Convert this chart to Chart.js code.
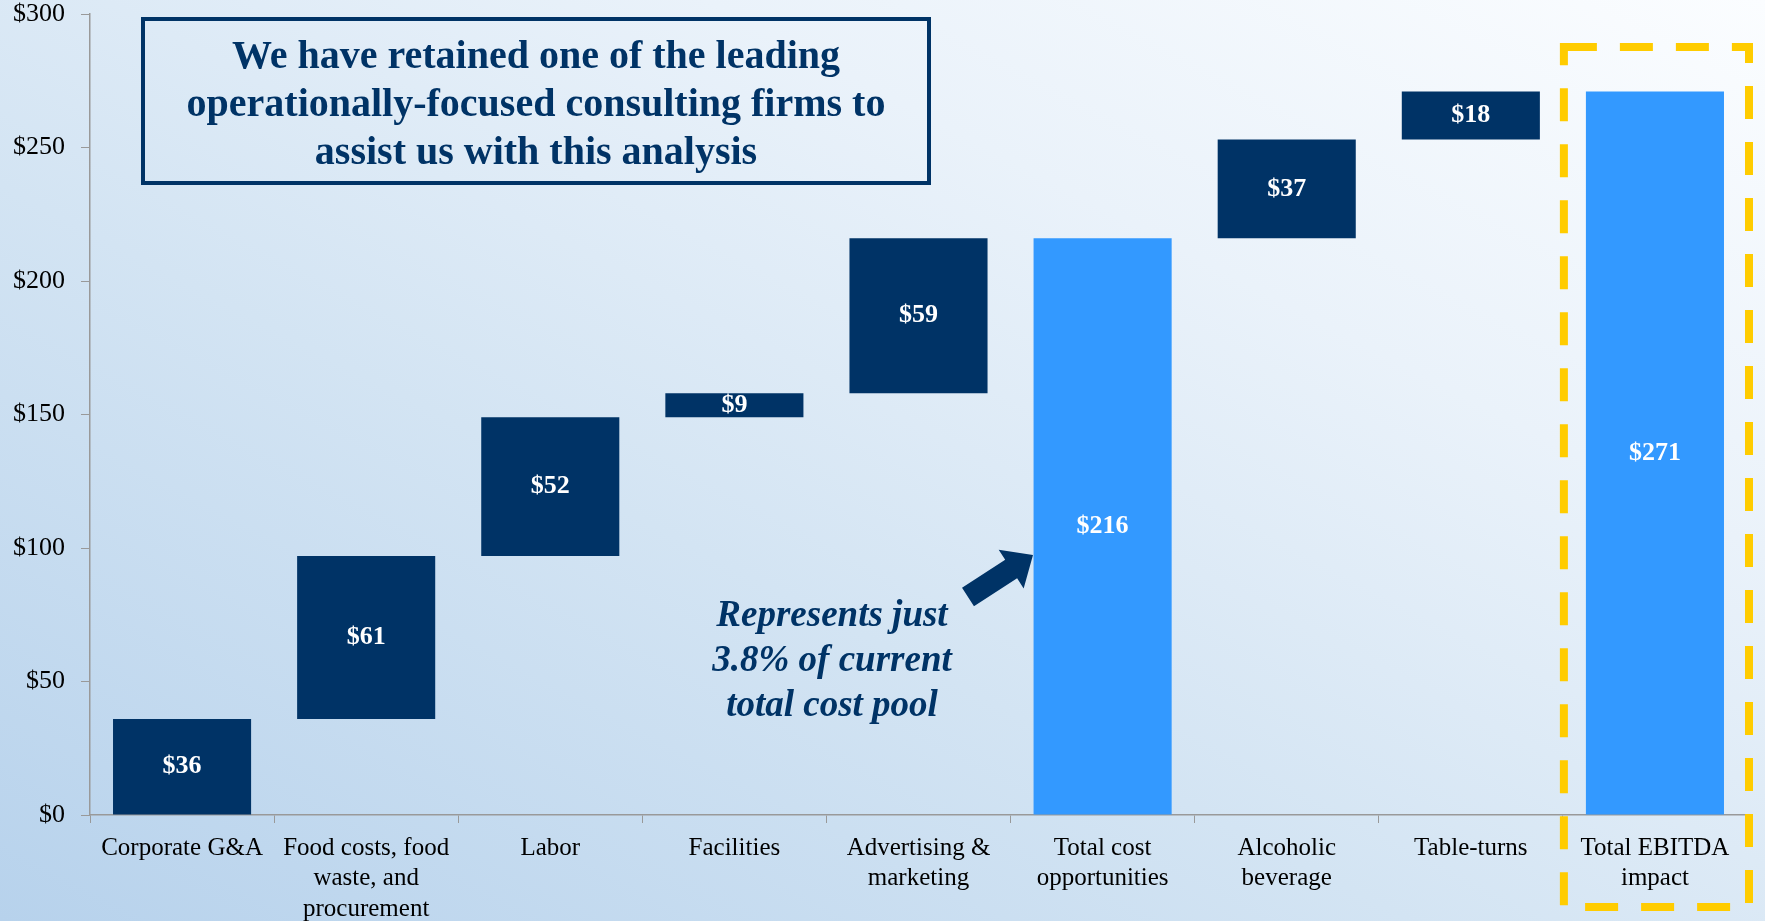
<!DOCTYPE html>
<html>
<head>
<meta charset="utf-8">
<script src="https://cdn.jsdelivr.net/npm/chart.js@4/dist/chart.umd.min.js"></script>
<style>
  html,body{margin:0;padding:0;}
  body{width:1765px;height:921px;overflow:hidden;
    background:linear-gradient(to top right,#b7d2ec 0%,#d3e4f3 40%,#eaf2fa 70%,#fbfdff 100%);}
  #wrap{position:relative;width:1765px;height:921px;}
</style>
</head>
<body>
<div id="wrap"><canvas id="chartW"></canvas></div>
<script>
// waterfall data, $ millions
const categories=[['Corporate G&A'],['Food costs, food','waste, and','procurement'],['Labor'],['Facilities'],['Advertising &','marketing'],['Total cost','opportunities'],['Alcoholic','beverage'],['Table-turns'],['Total EBITDA','impact']];
const amounts=[36,61,52,9,59,216,37,18,271];
const barBottoms=[0,36,97,149,158,0,216,253,0];
const barTops=[36,97,149,158,216,216,253,271,271];
const isTotal=[false,false,false,false,false,true,false,false,true];
const titleLines=['We have retained one of the leading','operationally-focused consulting firms to','assist us with this analysis'];
const noteLines=['Represents just','3.8% of current','total cost pool'];

const NAVY='#003366', LIGHT='#3399ff', SERIF="'Liberation Serif','Times New Roman',serif";

const valueLabels={id:'valueLabels',afterDatasetsDraw(chart){
  const ctx=chart.ctx, meta=chart.getDatasetMeta(0);
  ctx.save();ctx.fillStyle='#fff';ctx.font='bold 26px '+SERIF;ctx.textAlign='center';ctx.textBaseline='middle';
  meta.data.forEach((b,i)=>{ctx.fillText('$'+amounts[i],b.x,(b.y+b.base)/2);});
  ctx.restore();
}};

const extras={id:'extras',afterDraw(chart){
  const ctx=chart.ctx, x=chart.scales.x;
  ctx.save();
  // headline box
  ctx.strokeStyle=NAVY;ctx.lineWidth=4;ctx.strokeRect(143,19,786,164);
  ctx.fillStyle=NAVY;ctx.font='bold 40px '+SERIF;ctx.textAlign='center';ctx.textBaseline='middle';
  titleLines.forEach((t,i)=>ctx.fillText(t,536,58+i*48));
  // note
  ctx.font='italic bold 37px '+SERIF;
  noteLines.forEach((t,i)=>ctx.fillText(t,832,616+i*45));
  // arrow
  const sx=968,sy=597,tx=1033,ty=555,ang=Math.atan2(ty-sy,tx-sx),len=Math.hypot(tx-sx,ty-sy);
  ctx.translate(sx,sy);ctx.rotate(ang);
  ctx.beginPath();ctx.moveTo(0,-11);ctx.lineTo(len-26,-11);ctx.lineTo(len-26,-23);ctx.lineTo(len,0);
  ctx.lineTo(len-26,23);ctx.lineTo(len-26,11);ctx.lineTo(0,11);ctx.closePath();ctx.fill();
  ctx.setTransform(1,0,0,1,0,0);
  // dashed highlight around the last column
  const half=(x.getPixelForValue(1)-x.getPixelForValue(0))/2, cx=x.getPixelForValue(8);
  ctx.strokeStyle='#ffcc00';ctx.lineWidth=8;ctx.setLineDash([33,23]);
  ctx.strokeRect(cx-half+1,47,2*half+1,860);
  ctx.restore();
}};

new Chart(document.getElementById('chartW'),{
  type:'bar',
  data:{labels:categories,datasets:[{
    data:barBottoms.map((b,i)=>[b,barTops[i]]),
    backgroundColor:isTotal.map(t=>t?LIGHT:NAVY),
    borderWidth:0,barPercentage:0.75,categoryPercentage:1
  }]},
  options:{
    responsive:true,maintainAspectRatio:false,animation:false,
    layout:{padding:{top:0,right:18,left:0,bottom:0}},
    plugins:{legend:{display:false},tooltip:{enabled:false}},
    scales:{
      x:{grid:{drawOnChartArea:false,tickLength:8,color:'#999'},border:{color:'#999',width:1.5},
        ticks:{color:'#000',font:{family:SERIF,size:25,lineHeight:1.22},padding:10,maxRotation:0,autoSkip:false},
        afterFit(s){s.height=106;}},
      y:{min:0,max:300,grid:{drawOnChartArea:false,tickLength:9,color:'#999'},border:{color:'#999',width:1.5},
        ticks:{stepSize:50,color:'#000',padding:16,font:{family:SERIF,size:26},callback:v=>'$'+v},
        afterFit(s){s.width=90;s.paddingTop=14;}}
    }
  },
  plugins:[valueLabels,extras]
});
</script>
</body>
</html>
